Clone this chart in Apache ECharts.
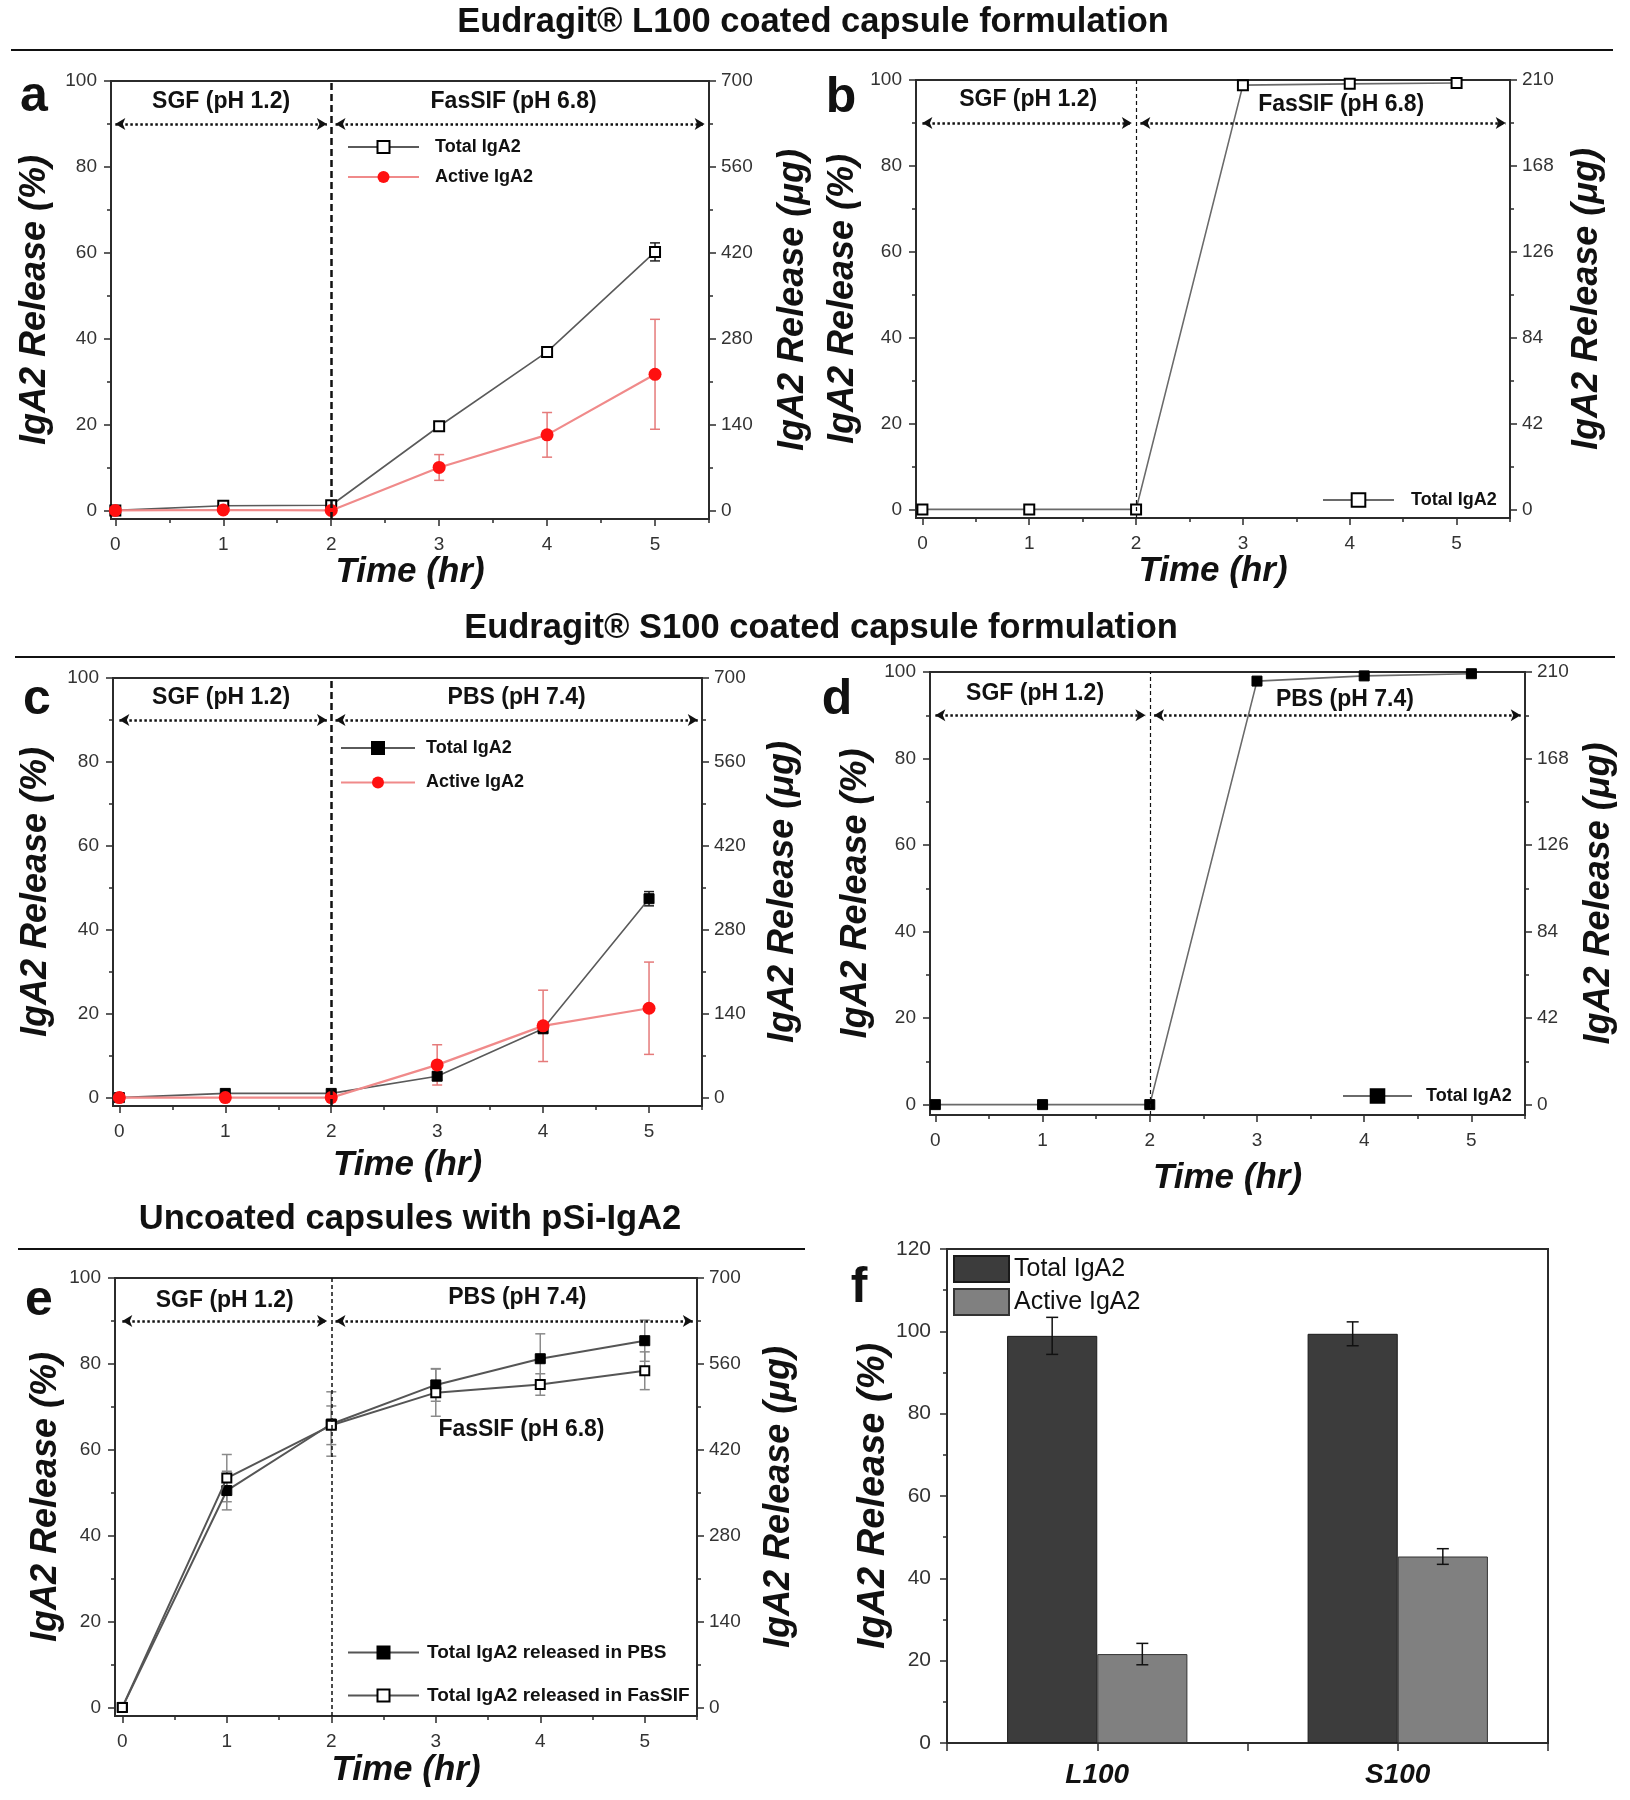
<!DOCTYPE html>
<html>
<head>
<meta charset="utf-8">
<script src="https://cdn.jsdelivr.net/npm/echarts@6/dist/echarts.min.js"></script>
<style>html,body{margin:0;padding:0;background:#fff}#chart{width:1630px;height:1800px}</style>
</head>
<body>
<div id="chart"></div>
<script>
// ---------------- data ----------------
const timeHr = [0, 1, 2, 3, 4, 5];
const timeTicks = [0, 1, 2, 3, 4, 5];
const timeMinorTicks = [0.5, 1.5, 2.5, 3.5, 4.5, 5.5];
const pctTicks = [0, 20, 40, 60, 80, 100];
const pctMinorTicks = [10, 30, 50, 70, 90];
const ugTicks700 = [0, 140, 280, 420, 560, 700];
const ugMinor700 = [70, 210, 350, 490, 630];
const ugTicks210 = [0, 42, 84, 126, 168, 210];
const ugMinor210 = [21, 63, 105, 147, 189];
const barTicks = [0, 20, 40, 60, 80, 100, 120];
const barMinorTicks = [10, 30, 50, 70, 90, 110];

const phaseSwitchHr = 2;
const sgfArrowSpan = [0, 1.96];
const intestArrowSpan = [2.04, 5.46];
const arrowLevel = 90;

// panel a (L100, FasSIF)
const aTotal = [0, 1.1, 1.2, 19.6, 36.9, 60.2];
const aTotalErr = [0, 0, 0, 0.8, 0.8, 2.1];
const aActive = [0, 0.1, 0, 10.0, 17.6, 31.7];
const aActiveErr = [0, 0, 0, 3.0, 5.2, 12.8];
// panel b (L100, total only)
const bTotal = [0, 0, 0, 98.8, 99.1, 99.3];
// panel c (S100, PBS)
const cTotal = [0, 1.0, 1.0, 5.1, 16.4, 47.4];
const cTotalErr = [0, 0, 0, 0.9, 0.9, 1.7];
const cActive = [0, 0, 0, 7.8, 17.1, 21.3];
const cActiveErr = [0, 0, 0, 4.8, 8.5, 11.0];
// panel d (S100, total only)
const dTotal = [0, 0, 0, 97.9, 99.1, 99.6];
// panel e (uncoated)
const ePBS = [0, 50.5, 66.0, 75.1, 81.2, 85.4];
const ePBSErr = [0, 4.5, 7.5, 3.8, 5.8, 4.8];
const eFasSIF = [0, 53.4, 65.7, 73.3, 75.2, 78.4];
const eFasSIFErr = [0, 5.5, 4.5, 5.5, 2.5, 4.4];
// panel f (bars)
const fCategories = ['L100', 'S100'];
const fTotal = [98.9, 99.4];
const fTotalErr = [4.5, 2.9];
const fActive = [21.6, 45.3];
const fActiveErr = [2.6, 1.9];

// ---------------- styling helpers ----------------
const FONT = "'Liberation Sans', Arial, Helvetica, sans-serif";
const INK = '#111111';
const AXIS = '#2b2b2b';

const option = {
  animation: false,
  backgroundColor: '#ffffff',
  textStyle: { fontFamily: FONT },
  grid: [], xAxis: [], yAxis: [], series: [], legend: [], graphic: []
};

function mainValueAxis(gridIndex, min, max, ticks, position, labelSize, margin, name, nameGap, nameSize) {
  return {
    type: 'value', gridIndex, min, max, position, silent: true,
    axisLine: { show: true, onZero: false, lineStyle: { color: AXIS, width: 2 } },
    axisTick: { show: true, inside: false, length: 7, customValues: ticks, lineStyle: { color: AXIS, width: 1.5 } },
    axisLabel: { show: true, customValues: ticks, fontSize: labelSize, color: '#333', margin, fontFamily: FONT },
    splitLine: { show: false },
    minorTick: { show: false },
    name, nameLocation: 'middle', nameGap,
    nameTextStyle: { fontSize: nameSize, fontWeight: 'bold', fontStyle: 'italic', color: INK, fontFamily: FONT }
  };
}
function minorValueAxis(gridIndex, min, max, ticks, position) {
  return {
    type: 'value', gridIndex, min, max, position, silent: true,
    axisLine: { show: false, onZero: false },
    axisTick: { show: true, inside: false, length: 4, customValues: ticks, lineStyle: { color: AXIS, width: 1.5 } },
    axisLabel: { show: false },
    splitLine: { show: false }
  };
}
function errorBarItem(color, capHalf, lineWidth, bandShiftFrac) {
  return function (params, api) {
    const xv = api.value(0);
    const lo = api.coord([xv, api.value(1)]);
    const hi = api.coord([xv, api.value(2)]);
    const shift = bandShiftFrac ? api.size([1, 0])[0] * bandShiftFrac : 0;
    const cx = lo[0] + shift;
    const st = () => ({ stroke: color, lineWidth: lineWidth });
    return {
      type: 'group', children: [
        { type: 'line', shape: { x1: cx, y1: hi[1], x2: cx, y2: lo[1] }, style: st() },
        { type: 'line', shape: { x1: cx - capHalf, y1: hi[1], x2: cx + capHalf, y2: hi[1] }, style: st() },
        { type: 'line', shape: { x1: cx - capHalf, y1: lo[1], x2: cx + capHalf, y2: lo[1] }, style: st() }
      ]
    };
  };
}
const stripTag = n => n.replace(/ \[[a-f]\]$/, '');

function linePanel(p) {
  const gi = option.grid.length;
  option.grid.push({
    left: p.rect[0], top: p.rect[1], width: p.rect[2], height: p.rect[3],
    show: true, borderColor: AXIS, borderWidth: 2, backgroundColor: 'rgba(0,0,0,0)',
    containLabel: false, outerBoundsMode: 'none'
  });
  const xi = option.xAxis.length;
  option.xAxis.push(mainValueAxis(gi, p.xMin, 5.5, timeTicks, 'bottom', 19, 16, 'Time (hr)', p.xNameGap, 35));
  option.xAxis.push(minorValueAxis(gi, p.xMin, 5.5, timeMinorTicks, 'bottom'));
  const yi = option.yAxis.length;
  option.yAxis.push(mainValueAxis(gi, p.yMin, 100, pctTicks, 'left', 19, 14, 'IgA2 Release (%)', p.leftNameGap, 36));
  option.yAxis.push(minorValueAxis(gi, p.yMin, 100, pctMinorTicks, 'left'));
  const rMin = p.yMin * p.ugMax / 100;
  option.yAxis.push(mainValueAxis(gi, rMin, p.ugMax, p.ugTicks, 'right', 19, 12, 'IgA2 Release (μg)', p.rightNameGap, 36));
  option.yAxis.push(minorValueAxis(gi, rMin, p.ugMax, p.ugMinor, 'right'));

  const arrowStyle = { type: [2.5, 2.5], width: 2.5, color: INK, cap: 'butt' };
  const arrowEnd = (x) => ({ coord: [x, arrowLevel], symbol: 'arrow', symbolSize: [9, 10] });

  p.series.forEach((s, k) => {
    if (s.err) {
      option.series.push({
        type: 'custom', name: s.name + ' err', xAxisIndex: xi, yAxisIndex: yi, z: 1, silent: true,
        renderItem: errorBarItem(s.errColor, 5, 1.5, 0),
        encode: { x: 0, y: [1, 2] },
        data: timeHr.map((t, i) => [t, s.data[i] - s.err[i], s.data[i] + s.err[i]]).filter((d, i) => s.err[i] > 0)
      });
    }
    const ser = {
      type: 'line', name: s.name, xAxisIndex: xi, yAxisIndex: yi, z: 3 + k, silent: true,
      data: timeHr.map((t, i) => [t, s.data[i]]),
      symbol: s.symbol, symbolSize: s.symbolSize, showAllSymbol: true,
      itemStyle: s.itemStyle, lineStyle: s.lineStyle,
      emphasis: { disabled: true }
    };
    if (k === 0) {
      ser.markLine = {
        silent: true, symbol: 'none', label: { show: false }, animation: false,
        data: [
          { xAxis: phaseSwitchHr, lineStyle: { type: p.vline.type, width: p.vline.width, color: INK } },
          [Object.assign(arrowEnd(sgfArrowSpan[0]), { lineStyle: arrowStyle }), arrowEnd(sgfArrowSpan[1])],
          [Object.assign(arrowEnd(intestArrowSpan[0]), { lineStyle: arrowStyle }), arrowEnd(intestArrowSpan[1])]
        ]
      };
      ser.markPoint = {
        silent: true, symbol: 'circle', symbolSize: 1, animation: false,
        itemStyle: { color: 'rgba(0,0,0,0)' },
        label: { show: true, position: 'inside', formatter: d => d.name, fontSize: 23, fontWeight: 'bold', color: INK, fontFamily: FONT },
        data: p.notes.map(n => ({ name: n.text, coord: [n.x, n.y] }))
      };
    }
    option.series.push(ser);
  });

  const L = p.legend;
  option.legend.push({
    data: p.series.map(s => s.name), formatter: stripTag, selectedMode: false,
    orient: 'vertical', left: L.left, top: L.top, padding: 0,
    itemWidth: L.itemWidth, itemHeight: L.itemHeight, itemGap: L.itemGap || 10,
    textStyle: { fontSize: L.fontSize, fontWeight: 'bold', color: INK, fontFamily: FONT, padding: [0, 0, 0, L.pad] }
  });
}

const hollowSq = { color: '#ffffff', borderColor: '#000000', borderWidth: 2 };
const filledSq = { color: '#000000', borderColor: '#000000', borderWidth: 1 };
const redDot = { color: '#ff1010', borderColor: '#ff1010', borderWidth: 0 };
const greyLine = { color: '#5a5a5a', width: 1.6 };
const redLine = { color: '#f08a8a', width: 2.2 };

// ---- panel a ----
linePanel({
  rect: [111, 81, 598, 438], xMin: -0.04, yMin: -2, ugMax: 700, ugTicks: ugTicks700, ugMinor: ugMinor700,
  vline: { width: 2.5, type: [7, 4] },
  notes: [{ text: 'SGF (pH 1.2)', x: 0.98, y: 95.3 }, { text: 'FasSIF (pH 6.8)', x: 3.69, y: 95.3 }],
  xNameGap: 35, leftNameGap: 58, rightNameGap: 66,
  series: [
    { name: 'Total IgA2 [a]', data: aTotal, err: aTotalErr, errColor: '#222', symbol: 'rect', symbolSize: 10, itemStyle: hollowSq, lineStyle: greyLine },
    { name: 'Active IgA2 [a]', data: aActive, err: aActiveErr, errColor: '#e57a7a', symbol: 'circle', symbolSize: 13, itemStyle: redDot, lineStyle: redLine }
  ],
  legend: { left: 347, top: 138, itemWidth: 71, itemHeight: 15, itemGap: 12, pad: 11, fontSize: 18 }
});
// ---- panel b ----
linePanel({
  rect: [916, 80, 594, 438], xMin: -0.06, yMin: -2, ugMax: 210, ugTicks: ugTicks210, ugMinor: ugMinor210,
  vline: { width: 1.2, type: [4, 3] },
  notes: [{ text: 'SGF (pH 1.2)', x: 0.99, y: 95.4 }, { text: 'FasSIF (pH 6.8)', x: 3.92, y: 94.2 }],
  xNameGap: 35, leftNameGap: 55, rightNameGap: 59,
  series: [
    { name: 'Total IgA2 [b]', data: bTotal, symbol: 'rect', symbolSize: 10, itemStyle: hollowSq, lineStyle: { color: '#6a6a6a', width: 1.6 } }
  ],
  legend: { left: 1322, top: 491, itemWidth: 71, itemHeight: 17, pad: 12, fontSize: 18 }
});
// ---- panel c ----
linePanel({
  rect: [113, 678, 589, 428], xMin: -0.06, yMin: -2, ugMax: 700, ugTicks: ugTicks700, ugMinor: ugMinor700,
  vline: { width: 2.5, type: [7, 4] },
  notes: [{ text: 'SGF (pH 1.2)', x: 0.96, y: 95.2 }, { text: 'PBS (pH 7.4)', x: 3.75, y: 95.2 }],
  xNameGap: 42, leftNameGap: 59, rightNameGap: 63,
  series: [
    { name: 'Total IgA2 [c]', data: cTotal, err: cTotalErr, errColor: '#222', symbol: 'rect', symbolSize: 10, itemStyle: filledSq, lineStyle: greyLine },
    { name: 'Active IgA2 [c]', data: cActive, err: cActiveErr, errColor: '#e57a7a', symbol: 'circle', symbolSize: 13, itemStyle: redDot, lineStyle: redLine }
  ],
  legend: { left: 340, top: 739, itemWidth: 74, itemHeight: 15, itemGap: 16.5, pad: 6, fontSize: 18 }
});
// ---- panel d ----
linePanel({
  rect: [930, 672, 595, 443], xMin: -0.05, yMin: -2.4, ugMax: 210, ugTicks: ugTicks210, ugMinor: ugMinor210,
  vline: { width: 1.2, type: [4, 3] },
  notes: [{ text: 'SGF (pH 1.2)', x: 0.93, y: 95.0 }, { text: 'PBS (pH 7.4)', x: 3.82, y: 93.5 }],
  xNameGap: 46, leftNameGap: 56, rightNameGap: 56,
  series: [
    { name: 'Total IgA2 [d]', data: dTotal, symbol: 'rect', symbolSize: 10, itemStyle: filledSq, lineStyle: { color: '#6a6a6a', width: 1.6 } }
  ],
  legend: { left: 1342, top: 1087, itemWidth: 69, itemHeight: 17, pad: 9, fontSize: 18 }
});
// ---- panel e ----
linePanel({
  rect: [115, 1278, 582, 438], xMin: -0.07, yMin: -2, ugMax: 700, ugTicks: ugTicks700, ugMinor: ugMinor700,
  vline: { width: 1.5, type: [4, 3] },
  notes: [{ text: 'SGF (pH 1.2)', x: 0.98, y: 94.7 }, { text: 'PBS (pH 7.4)', x: 3.78, y: 95.5 }, { text: 'FasSIF (pH 6.8)', x: 3.82, y: 64.7 }],
  xNameGap: 37, leftNameGap: 51, rightNameGap: 64,
  series: [
    { name: 'Total IgA2 released in PBS [e]', data: ePBS, err: ePBSErr, errColor: '#8a8a8a', symbol: 'rect', symbolSize: 10, itemStyle: filledSq, lineStyle: { color: '#555', width: 2 } },
    { name: 'Total IgA2 released in FasSIF [e]', data: eFasSIF, err: eFasSIFErr, errColor: '#8a8a8a', symbol: 'rect', symbolSize: 9, itemStyle: hollowSq, lineStyle: { color: '#555', width: 2 } }
  ],
  legend: { left: 347, top: 1643, itemWidth: 71, itemHeight: 15, itemGap: 24, pad: 3, fontSize: 19 }
});

// ---- panel f (bars) ----
(function () {
  const gi = option.grid.length;
  option.grid.push({ left: 947, top: 1249, width: 601, height: 494, show: true, borderColor: AXIS, borderWidth: 2,
    backgroundColor: 'rgba(0,0,0,0)', containLabel: false, outerBoundsMode: 'none' });
  const xi = option.xAxis.length;
  option.xAxis.push({
    type: 'category', gridIndex: gi, data: fCategories, position: 'bottom', silent: true,
    axisLine: { show: true, onZero: false, lineStyle: { color: AXIS, width: 2 } },
    axisTick: { show: true, length: 8, alignWithLabel: false, lineStyle: { color: AXIS, width: 1.5 } },
    axisLabel: { fontSize: 28, fontWeight: 'bold', fontStyle: 'italic', color: INK, margin: 18, fontFamily: FONT },
    splitLine: { show: false }
  });
  option.xAxis.push({
    type: 'category', gridIndex: gi, data: fCategories, position: 'bottom', silent: true,
    axisLine: { show: false, onZero: false },
    axisTick: { show: true, length: 8, alignWithLabel: true, lineStyle: { color: AXIS, width: 1.5 } },
    axisLabel: { show: false }, splitLine: { show: false }
  });
  const yi = option.yAxis.length;
  option.yAxis.push(mainValueAxis(gi, 0, 120, barTicks, 'left', 21, 16, 'IgA2 Release (%)', 41, 38));
  option.yAxis.push(minorValueAxis(gi, 0, 120, barMinorTicks, 'left'));

  option.series.push({
    type: 'bar', name: 'Total IgA2 [f]', xAxisIndex: xi, yAxisIndex: yi, data: fTotal, silent: true,
    barWidth: '30%', barGap: '0%', itemStyle: { color: '#3c3c3c', borderColor: '#1a1a1a', borderWidth: 1 }
  });
  option.series.push({
    type: 'bar', name: 'Active IgA2 [f]', xAxisIndex: xi, yAxisIndex: yi, data: fActive, silent: true,
    barWidth: '30%', barGap: '0%', itemStyle: { color: '#808080', borderColor: '#333333', borderWidth: 1 }
  });
  option.series.push({
    type: 'custom', xAxisIndex: xi, yAxisIndex: yi, z: 5, silent: true,
    renderItem: errorBarItem('#111', 6, 1.5, -0.15), encode: { x: 0, y: [1, 2] },
    data: fCategories.map((c, i) => [c, fTotal[i] - fTotalErr[i], fTotal[i] + fTotalErr[i]])
  });
  option.series.push({
    type: 'custom', xAxisIndex: xi, yAxisIndex: yi, z: 5, silent: true,
    renderItem: errorBarItem('#111', 6, 1.5, 0.15), encode: { x: 0, y: [1, 2] },
    data: fCategories.map((c, i) => [c, fActive[i] - fActiveErr[i], fActive[i] + fActiveErr[i]])
  });
  option.legend.push({
    data: ['Total IgA2 [f]', 'Active IgA2 [f]'], formatter: stripTag, selectedMode: false,
    orient: 'vertical', left: 953, top: 1255, padding: 0, icon: 'rect', itemWidth: 55, itemHeight: 26, itemGap: 5,
    textStyle: { fontSize: 25, color: INK, fontFamily: FONT }
  });
})();

// ---- headings, separators, panel letters ----
const headFont = "bold 34.5px 'Liberation Sans', Arial, sans-serif";
const letterFont = "bold 50px 'Liberation Sans', Arial, sans-serif";
function txt(x, y, text, font) {
  return { type: 'text', x, y, silent: true, style: { text, font, fill: INK, textAlign: 'center', textVerticalAlign: 'middle' } };
}
function rule(x1, x2, y) {
  return { type: 'line', silent: true, shape: { x1, y1: y, x2, y2: y }, style: { stroke: INK, lineWidth: 2 } };
}
option.graphic = [
  txt(813, 22, 'Eudragit® L100 coated capsule formulation', headFont),
  rule(11, 1613, 50),
  txt(821, 628, 'Eudragit® S100 coated capsule formulation', headFont),
  rule(15, 1615, 657),
  txt(410, 1219, 'Uncoated capsules with pSi-IgA2', headFont),
  rule(18, 805, 1249),
  txt(34, 97, 'a', letterFont),
  txt(841, 98, 'b', letterFont),
  txt(37, 700, 'c', letterFont),
  txt(837, 700, 'd', letterFont),
  txt(39, 1301, 'e', letterFont),
  txt(859, 1288, 'f', letterFont)
];

const chart = echarts.init(document.getElementById('chart'), null, { renderer: 'canvas', width: 1630, height: 1800 });
chart.setOption(option);
</script>
</body>
</html>
